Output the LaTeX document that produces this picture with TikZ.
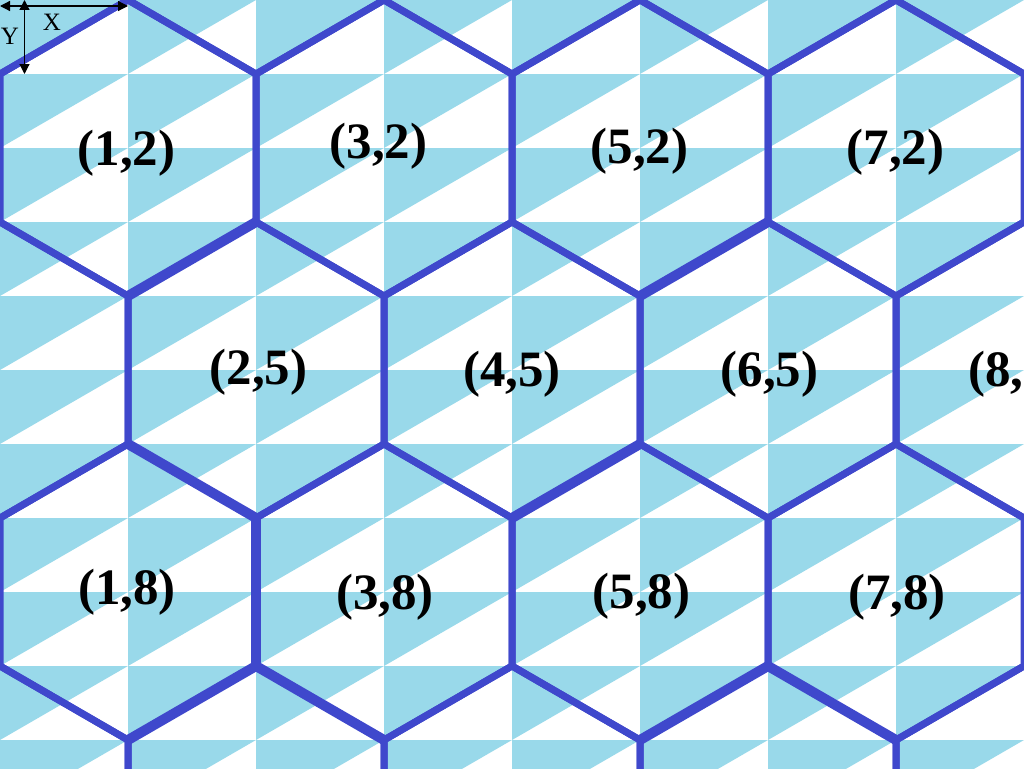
\documentclass[tikz,border=0pt]{standalone}
\usepackage{fontspec}
\setmainfont{Liberation Serif}
\usetikzlibrary{arrows.meta}
\definecolor{tri}{RGB}{153,217,234}
\definecolor{hexc}{RGB}{63,72,204}
\begin{document}
\begin{tikzpicture}[x=1pt,y=-1pt,
  hexedge/.style={draw=hexc,line width=7pt},
  thickedge/.style={draw=hexc,line width=10pt},
  lab/.style={font=\fontsize{51}{51}\selectfont\bfseries, inner sep=0pt},
  axis/.style={line width=1.2pt, {Triangle[length=10pt,width=10pt]}-{Triangle[length=10pt,width=10pt]}},
  axlab/.style={font=\fontsize{25}{25}\selectfont, inner sep=0pt}]
\useasboundingbox (0,0) rectangle (1024,768);
\begin{scope}
\clip (0,0) rectangle (1024,768);
\fill[white] (0,0) rectangle (1024,768);
\foreach \i in {0,...,7} \foreach \j in {0,...,10}
  \fill[tri] ({128*\i},{74*\j}) -- ++(128,0) -- ++(-128,74) -- cycle;
\foreach \cx/\cy in {0/-74,256/-74,512/-74,768/-74,1024/-74,
                     128/148,384/148,640/148,896/148,
                     0/370,256/370,512/370,768/370,1024/370,
                     128/592,384/592,640/592,896/592,
                     0/814,256/814,512/814,768/814,1024/814}
  \draw[hexedge] ({\cx},{\cy-148}) -- ++(128,74) -- ++(0,148) -- ++(-128,74) -- ++(-128,-74) -- ++(0,-148) -- cycle;
\draw[thickedge] (128,296) -- (256,222);
\draw[thickedge] (640,296) -- (768,222);
\draw[thickedge] (128,444) -- (256,518);
\draw[thickedge] (512,518) -- (640,444);
\draw[thickedge] (128,740) -- (256,666);
\draw[thickedge] (256,666) -- (384,740);
\draw[thickedge] (640,740) -- (768,666);
\draw[thickedge] (768,666) -- (896,740);
\draw[thickedge] (256,518) -- (256,666);
\end{scope}
% axes
\coordinate (xa) at (0,6);
\coordinate (xb) at (128,6);
\coordinate (ya) at (24.5,0);
\coordinate (yb) at (24.5,74);
\draw[axis] (xa) -- (xb);
\draw[axis] (ya) -- (yb);
\node[axlab] (xl) at (52,22) {X};
\node[axlab] (yl) at (10,36) {Y};
% labels
\node[lab] (l12) at (126.5,153) {(1,2)};
\node[lab] (l32) at (378.5,146) {(3,2)};
\node[lab] (l52) at (639.5,151) {(5,2)};
\node[lab] (l72) at (895.5,152.5) {(7,2)};
\node[lab] (l25) at (258.5,372) {(2,5)};
\node[lab] (l45) at (512,374.5) {(4,5)};
\node[lab] (l65) at (769.5,374.5) {(6,5)};
\begin{scope}
\clip (0,0) rectangle (1024,768);
\node[lab] (l85) at (1017,374) {(8,5)};
\end{scope}
\node[lab] (l18) at (127,592) {(1,8)};
\node[lab] (l38) at (385,597) {(3,8)};
\node[lab] (l58) at (641.5,596) {(5,8)};
\node[lab] (l78) at (897,597) {(7,8)};
\end{tikzpicture}
\end{document}
